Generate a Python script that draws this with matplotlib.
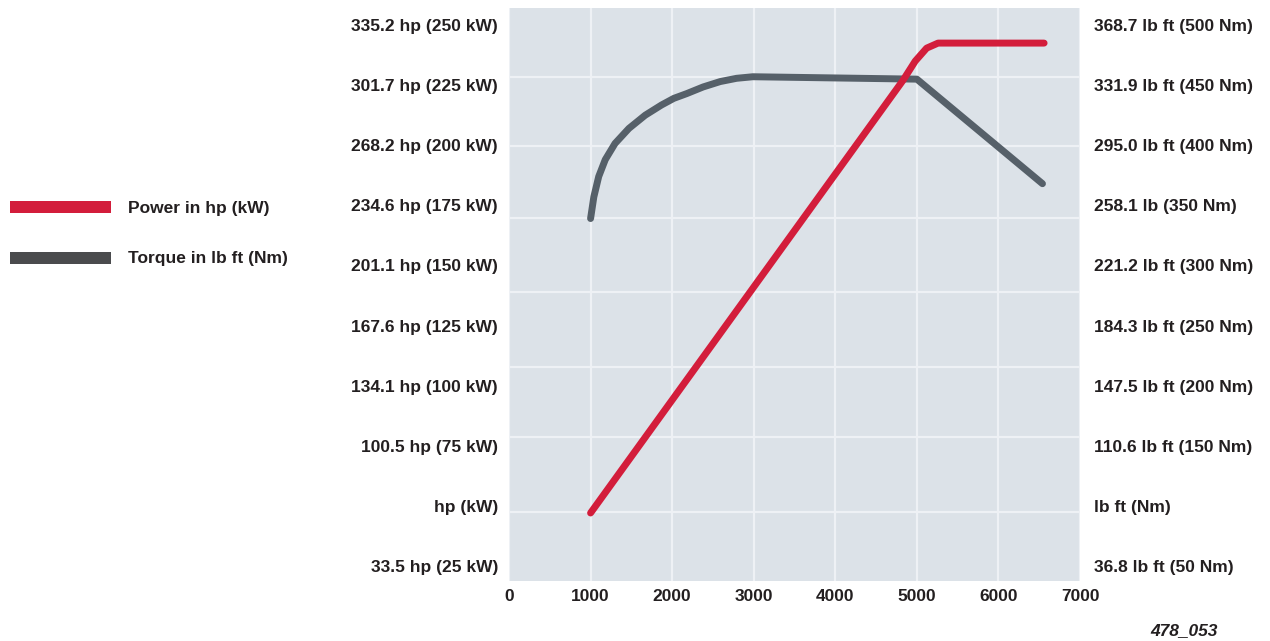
import matplotlib
matplotlib.use("Agg")
import matplotlib.pyplot as plt
from matplotlib.patches import Rectangle

plt.rcParams['font.family'] = ['Liberation Sans', 'DejaVu Sans']

# engine speed (rpm) and curves
rpm_power = [1000, 4830, 4980, 5120, 5260, 6560]
power_kw = [47, 227, 235, 240.4, 242.5, 242.5]

rpm_torque = [1000, 1040, 1100, 1180, 1300, 1470, 1670, 1870, 2020, 2180,
              2380, 2590, 2790, 2990, 5000, 6540]
torque_nm = [339, 357, 374, 388, 401.5, 414, 425, 433.5, 439, 443,
             448.5, 453, 455.7, 457, 455, 368]

x_ticks = [0, 1000, 2000, 3000, 4000, 5000, 6000, 7000]
kw_ticks = [25, 50, 75, 100, 125, 150, 175, 200, 225, 250]
hp_labels = ['33.5 hp (25 kW)', 'hp (kW)', '100.5 hp (75 kW)', '134.1 hp (100 kW)',
             '167.6 hp (125 kW)', '201.1 hp (150 kW)', '234.6 hp (175 kW)',
             '268.2 hp (200 kW)', '301.7 hp (225 kW)', '335.2 hp (250 kW)']
nm_ticks = [50, 100, 150, 200, 250, 300, 350, 400, 450, 500]
lbft_labels = ['36.8 lb ft (50 Nm)', 'lb ft (Nm)', '110.6 lb ft (150 Nm)',
               '147.5 lb ft (200 Nm)', '184.3 lb ft (250 Nm)', '221.2 lb ft (300 Nm)',
               '258.1 lb (350 Nm)', '295.0 lb ft (400 Nm)', '331.9 lb ft (450 Nm)',
               '368.7 lb ft (500 Nm)']
# horizontal grid in the original does not line up with the labels
grid_kw = [47.4, 78.6, 107.7, 138.9, 169.7, 199.7, 228.4]

RED = '#d31d3b'
GREY = '#566069'
TXT = '#231f20'
W, H = 1270, 641

fig = plt.figure(figsize=(W / 100, H / 100), dpi=100)
ax = fig.add_axes([509 / W, 1 - 581 / H, 571 / W, 573 / H])
ax2 = ax.twinx()

ax.set_facecolor('#dce2e8')
ax.set_xlim(0, 7000)
ax.set_ylim(18.7, 257.1)
ax2.set_ylim(37.4, 514.2)

for a in (ax, ax2):
    for s in a.spines.values():
        s.set_visible(False)

ax.set_xticks(x_ticks)
ax.set_xticklabels([str(t) for t in x_ticks], fontsize=12.5, fontweight='bold', color=TXT)
ax.set_yticks(kw_ticks)
ax.set_yticklabels(hp_labels, fontsize=12.5, fontweight='bold', color=TXT)
ax.set_yticks(grid_kw, minor=True)
ax.tick_params(axis='x', length=0, pad=6)
ax.tick_params(axis='y', which='both', length=0, pad=8)

ax2.set_yticks(nm_ticks)
ax2.set_yticklabels(lbft_labels, fontsize=12.5, fontweight='bold', color=TXT)
ax2.tick_params(axis='y', length=0, pad=10)

ax.grid(axis='x', which='major', color='#eef1f5', lw=1.6)
ax.grid(axis='y', which='minor', color='#eef1f5', lw=1.6)
ax.set_axisbelow(True)

ax.plot(rpm_torque, torque_nm, color=GREY, lw=5, solid_capstyle='round',
        solid_joinstyle='round', transform=ax2.transData, zorder=3)
ax.plot(rpm_power, power_kw, color=RED, lw=5, solid_capstyle='round',
        solid_joinstyle='round', zorder=4)

# legend at left
fig.add_artist(Rectangle((10 / W, 1 - 213 / H), 101 / W, 12 / H,
                         transform=fig.transFigure, color=RED, lw=0))
fig.add_artist(Rectangle((10 / W, 1 - 264 / H), 101 / W, 12 / H,
                         transform=fig.transFigure, color='#4a4b4d', lw=0))
fig.text(128 / W, 1 - 209 / H, 'Power in hp (kW)', fontsize=12.5, fontweight='bold',
         color=TXT, va='center')
fig.text(128 / W, 1 - 259 / H, 'Torque in lb ft (Nm)', fontsize=12.5, fontweight='bold',
         color=TXT, va='center')

fig.text(1218 / W, 1 - 631 / H, '478_053', fontsize=12.5, fontweight='bold',
         style='italic', color=TXT, ha='right', va='center')

fig.savefig('out.png', dpi=100)
